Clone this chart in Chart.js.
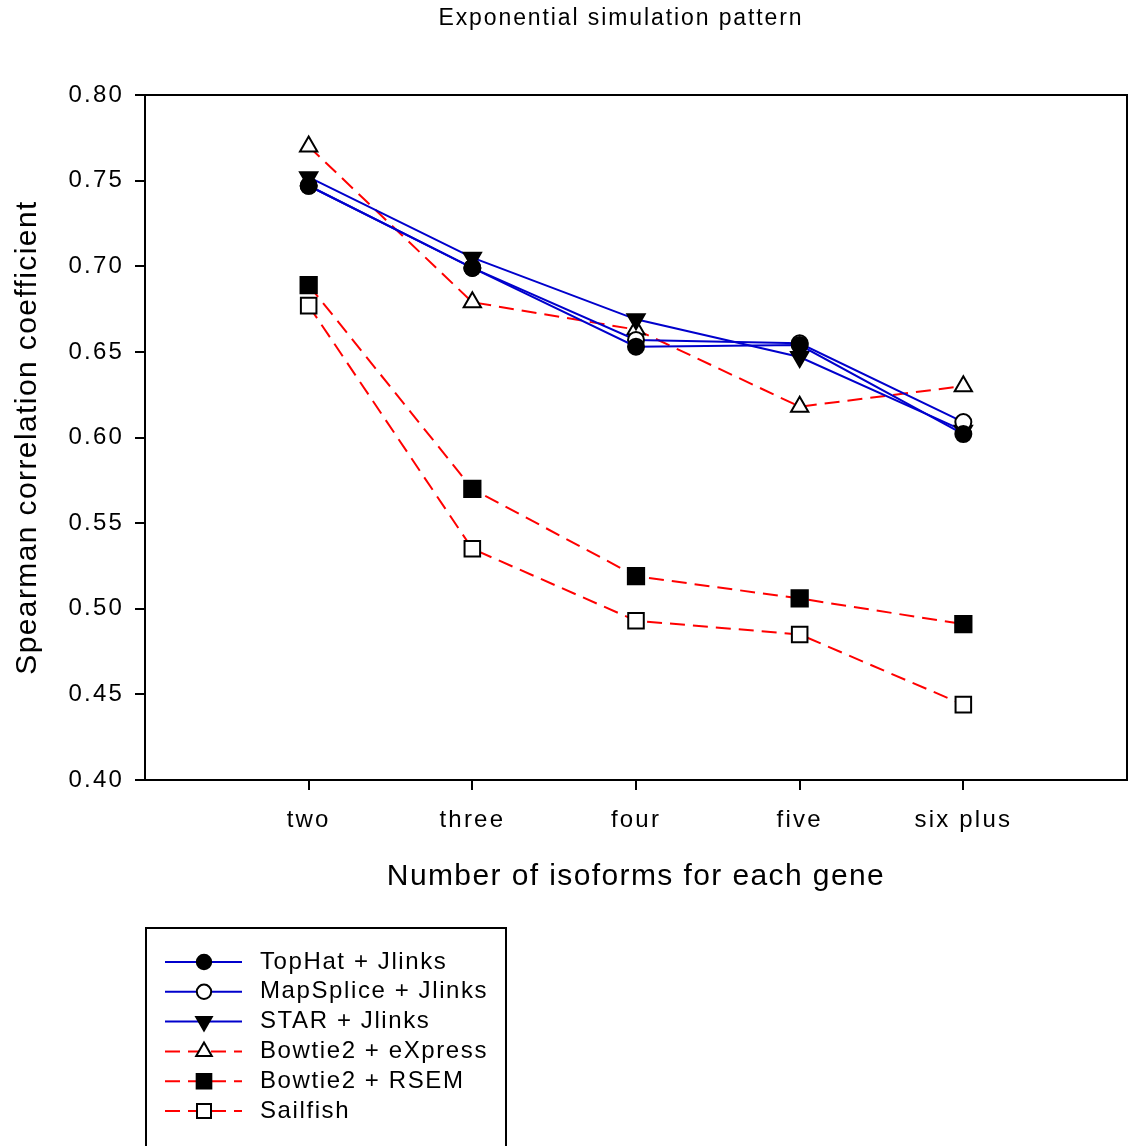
<!DOCTYPE html>
<html>
<head>
<meta charset="utf-8">
<script src="https://cdn.jsdelivr.net/npm/chart.js@4/dist/chart.umd.min.js"></script>
<style>
  body { margin: 0; background: #fff; }
  #wrap { width: 1128px; height: 1146px; }
</style>
</head>
<body>
<div id="wrap"><canvas id="myChart" width="1128" height="1146"></canvas></div>
<script>
// data
var categories = ["two", "three", "four", "five", "six plus"];
var tophat    = [0.747, 0.699, 0.653, 0.654, 0.602];
var mapsplice = [0.747, 0.699, 0.657, 0.655, 0.609];
var star      = [0.752, 0.705, 0.669, 0.647, 0.604];
var express   = [0.770, 0.679, 0.663, 0.618, 0.630];
var rsem      = [0.689, 0.570, 0.519, 0.506, 0.491];
var sailfish  = [0.677, 0.535, 0.493, 0.485, 0.444];
var yTicks = [0.40, 0.45, 0.50, 0.55, 0.60, 0.65, 0.70, 0.75, 0.80];

var FONT = "Arial, 'Liberation Sans', sans-serif";
var BLUE = "#0000cc";
var RED = "#ff0000";

function pts(values) {
  return values.map(function (v, i) { return { x: i + 1, y: v }; });
}

function makeSet(label, values, color, dashed, style, fill, radius, rotation) {
  return {
    label: label,
    data: pts(values),
    borderColor: color,
    borderWidth: 2,
    borderDash: dashed ? [15, 8] : [],
    tension: 0,
    pointStyle: style,
    pointRadius: radius,
    pointRotation: rotation || 0,
    pointBackgroundColor: fill,
    pointBorderColor: "#000",
    pointBorderWidth: 2,
    pointHoverRadius: radius
  };
}

var datasets = [
  makeSet("TopHat + Jlinks", tophat, BLUE, false, "circle", "#000", 8),
  makeSet("MapSplice + Jlinks", mapsplice, BLUE, false, "circle", "#fff", 8),
  makeSet("STAR + Jlinks", star, BLUE, false, "triangle", "#000", 10, 180),
  makeSet("Bowtie2 + eXpress", express, RED, true, "triangle", "#fff", 10),
  makeSet("Bowtie2 + RSEM", rsem, RED, true, "rect", "#000", 11.5),
  makeSet("Sailfish", sailfish, RED, true, "rect", "#fff", 11)
];

function spaced(ctx, px) {
  if ("letterSpacing" in ctx) ctx.letterSpacing = px + "px";
}

var decor = {
  id: "decor",
  beforeDraw: function (chart) {
    // wider glyph spacing for the tick labels, like the original renderer
    spaced(chart.ctx, 2.2);
  },
  afterDraw: function (chart) {
    var ctx = chart.ctx;
    var a = chart.chartArea;
    ctx.save();
    // top and right frame
    ctx.strokeStyle = "#000";
    ctx.lineWidth = 2;
    ctx.setLineDash([]);
    ctx.beginPath();
    ctx.moveTo(a.left, a.top);
    ctx.lineTo(a.right, a.top);
    ctx.lineTo(a.right, a.bottom);
    ctx.stroke();

    // titles
    ctx.fillStyle = "#000";
    ctx.textAlign = "center";
    ctx.textBaseline = "middle";
    ctx.font = "23px " + FONT;
    spaced(ctx, 1.9);
    ctx.fillText("Exponential simulation pattern", 621, 19);
    ctx.font = "30px " + FONT;
    spaced(ctx, 1.4);
    ctx.fillText("Number of isoforms for each gene", (a.left + a.right) / 2, 877);
    ctx.save();
    ctx.translate(28, (a.top + a.bottom) / 2);
    ctx.rotate(-Math.PI / 2);
    ctx.fillText("Spearman correlation coefficient", 0, 0);
    ctx.restore();

    // legend box
    spaced(ctx, 1.6);
    ctx.lineWidth = 2;
    ctx.strokeRect(146, 928, 360, 230);
    var y0 = 962, dy = 29.8;
    chart.data.datasets.forEach(function (ds, i) {
      var y = y0 + i * dy;
      ctx.strokeStyle = ds.borderColor;
      ctx.lineWidth = 2;
      ctx.setLineDash(ds.borderDash);
      ctx.beginPath();
      ctx.moveTo(165, y);
      ctx.lineTo(242, y);
      ctx.stroke();
      ctx.setLineDash([]);
      ctx.fillStyle = ds.pointBackgroundColor;
      ctx.strokeStyle = "#000";
      ctx.lineWidth = 2;
      Chart.helpers.drawPoint(ctx, {
        pointStyle: ds.pointStyle,
        rotation: ds.pointRotation,
        radius: ds.pointRadius * 0.9,
        borderWidth: 2
      }, 204, y);
      ctx.fillStyle = "#000";
      ctx.textAlign = "left";
      ctx.font = "24px " + FONT;
      ctx.fillText(ds.label, 260, y);
    });
    ctx.restore();
  }
};

new Chart("myChart", {
  type: "line",
  data: { datasets: datasets },
  plugins: [decor],
  options: {
    responsive: false,
    animation: false,
    layout: { autoPadding: false, padding: { top: 95, right: 1, left: 0, bottom: 0 } },
    plugins: {
      legend: { display: false },
      title: { display: false },
      tooltip: { enabled: false }
    },
    scales: {
      x: {
        type: "linear",
        min: 0,
        max: 6,
        afterBuildTicks: function (s) {
          s.ticks = categories.map(function (c, i) { return { value: i + 1 }; });
        },
        afterFit: function (s) {
          s.height = 366;
          s.paddingLeft = 0;
          s.paddingRight = 0;
        },
        ticks: {
          color: "#000",
          padding: 16,
          maxRotation: 0,
          font: { size: 24, family: FONT },
          callback: function (v) { return categories[v - 1] || ""; }
        },
        grid: { drawOnChartArea: false, tickLength: 10, color: "#000", lineWidth: 2 },
        border: { display: true, color: "#000", width: 2 }
      },
      y: {
        min: 0.4,
        max: 0.8,
        afterBuildTicks: function (s) {
          s.ticks = yTicks.map(function (v) { return { value: v }; });
        },
        afterFit: function (s) {
          s.width = 145;
          s.paddingTop = 0;
          s.paddingBottom = 0;
        },
        ticks: {
          color: "#000",
          padding: 11,
          font: { size: 24, family: FONT },
          callback: function (v) { return Number(v).toFixed(2); }
        },
        grid: { drawOnChartArea: false, tickLength: 10, color: "#000", lineWidth: 2 },
        border: { display: true, color: "#000", width: 2 }
      }
    }
  }
});
</script>
</body>
</html>
